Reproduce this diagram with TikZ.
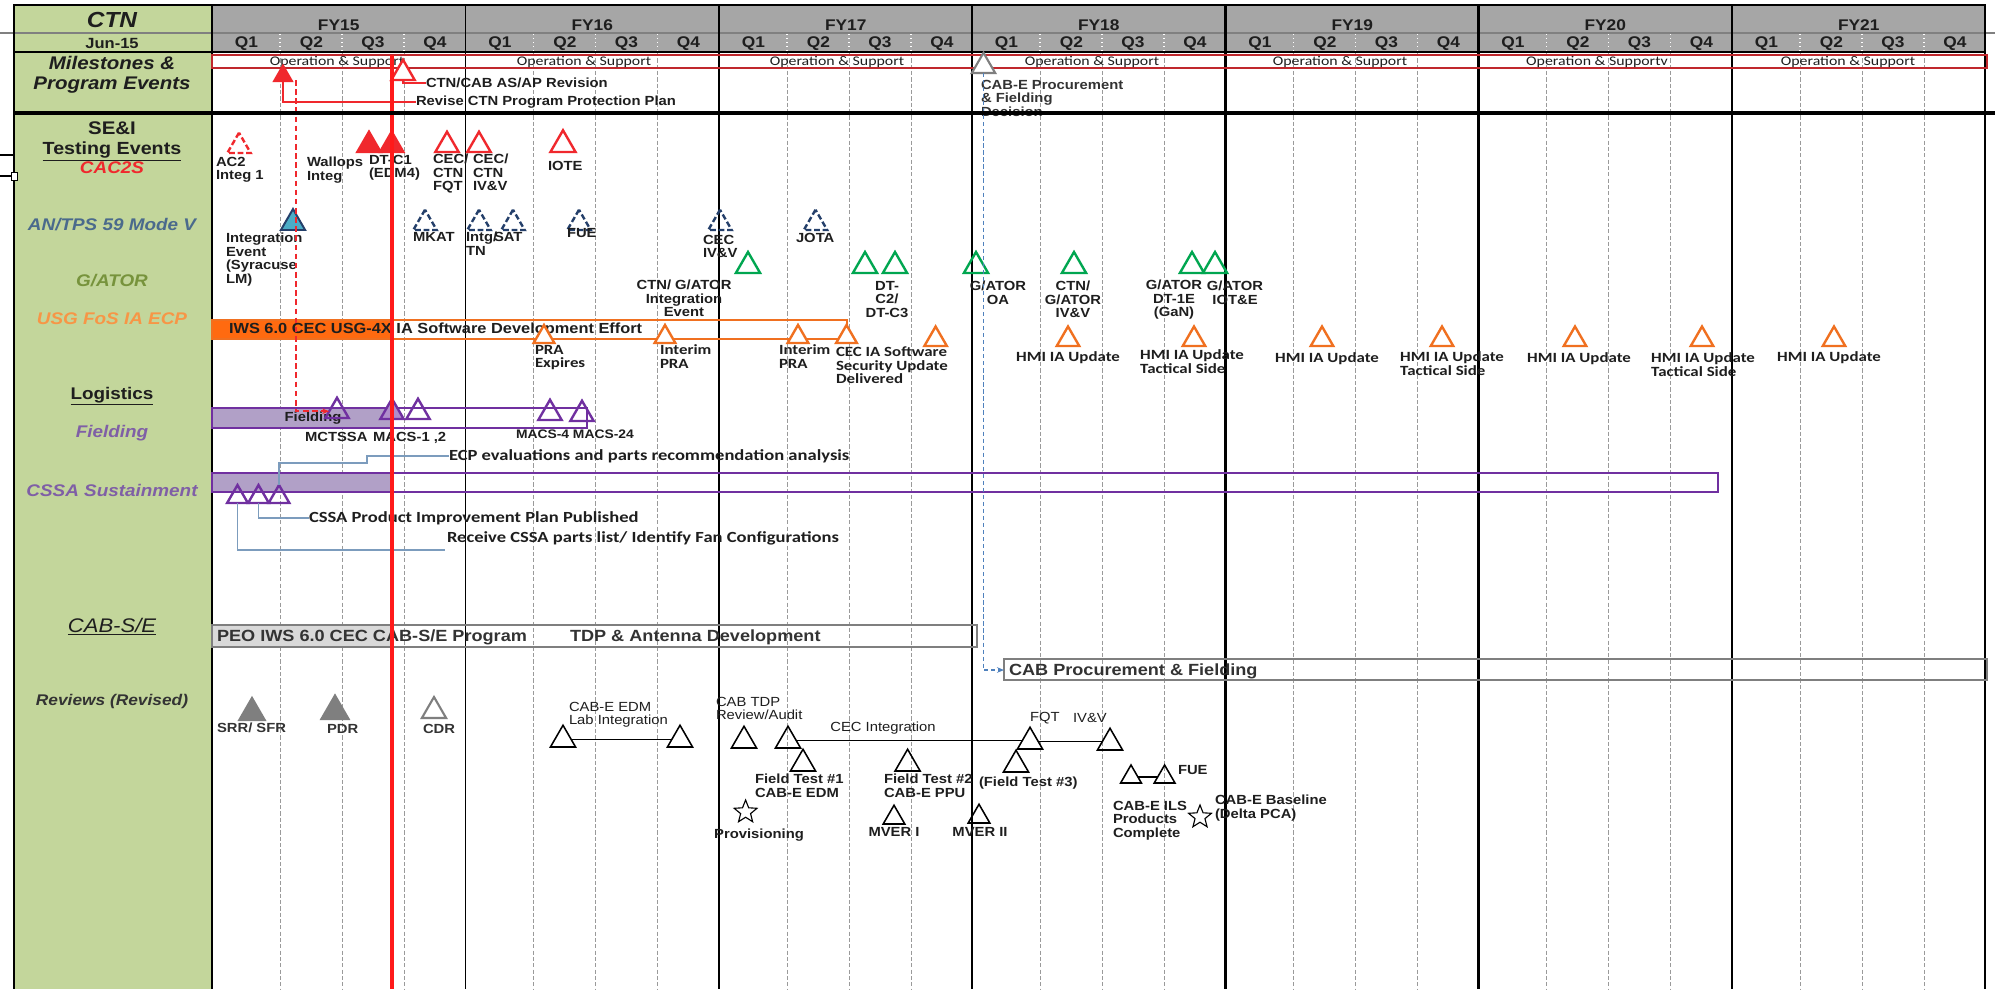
\documentclass[tikz,border=0pt]{standalone}
\usepackage{fontspec}
\setmainfont{Liberation Sans}[FakeStretch=1.12]
\newfontfamily\calfont{Carlito}[FakeStretch=1.2]
\usetikzlibrary{shapes.geometric,arrows.meta}

\definecolor{labelgreen}{HTML}{C3D69B}
\definecolor{hdrgray}{HTML}{A6A6A6}
\definecolor{opsred}{HTML}{C0282D}
\definecolor{nowred}{HTML}{FF1A1A}
\definecolor{cacred}{HTML}{F0282D}
\definecolor{navyline}{HTML}{243F6A}
\definecolor{tealfill}{HTML}{4BACC6}
\definecolor{tpsblue}{HTML}{4A6A8C}
\definecolor{gatorlbl}{HTML}{77933C}
\definecolor{gatorgrn}{HTML}{00A650}
\definecolor{usgorange}{HTML}{F79646}
\definecolor{orangeln}{HTML}{F07020}
\definecolor{orangebar}{HTML}{FF6A10}
\definecolor{purp}{HTML}{7030A0}
\definecolor{lavfill}{HTML}{B1A0C7}
\definecolor{purplbl}{HTML}{7F5FA6}
\definecolor{connblue}{HTML}{7C9CBD}
\definecolor{dashblue}{HTML}{4F81BD}
\definecolor{boxgray}{HTML}{7F7F7F}
\definecolor{pegray}{HTML}{D9D9D9}
\definecolor{txt}{HTML}{1E1E1E}
\definecolor{txtgray}{HTML}{333333}
\definecolor{gridgray}{HTML}{9A9A9A}

\begin{document}
\begin{tikzpicture}[x=0.025cm,y=-0.025cm,
  every node/.style={inner sep=0pt,outer sep=0pt},
  tri/.style={regular polygon,regular polygon sides=3,minimum size={#1*0.025cm},anchor=south,line width=1.7pt},
  tri/.default=27,
  dtri/.style={tri,dash pattern=on 4pt off 2pt},
  starb/.style={star,star points=5,star point ratio=2.3,draw=black,minimum size={24*0.025cm},line width=0.8pt},
  hdr/.style={font=\bfseries\fontsize{11}{11}\selectfont,text=txt},
  opst/.style={font=\calfont\fontsize{9.4}{9.4}\selectfont,text=txt},
  lbl/.style={font=\bfseries\fontsize{9.4}{9.6}\selectfont,text=txt,align=left},
  rlbl/.style={font=\fontsize{9.4}{9.6}\selectfont,text=txt,align=left},
  clbl/.style={font=\calfont\bfseries\fontsize{10}{9.6}\selectfont,text=txt,align=left},
  cbig/.style={font=\calfont\bfseries\fontsize{11}{11}\selectfont,text=txt},
  big/.style={font=\bfseries\fontsize{11.5}{11.5}\selectfont,text=txtgray},
  side/.style={anchor=base,font=\bfseries\itshape\fontsize{12}{12}\selectfont},
  gridline/.style={gridgray,dash pattern=on 3pt off 1.5pt,line width=0.5pt},
  conn/.style={connblue,line width=1pt},
]
\useasboundingbox (0,0) rectangle (1995,989);

% backgrounds
\fill[white] (0,0) rectangle (1995,989);
\fill[labelgreen] (14,5) rectangle (212,989);
\fill[hdrgray] (212,5) rectangle (1985,52);

% quarter grid
\foreach \ys in {212,465.5,719,972,1225.5,1478.5,1732} {
  \foreach \q in {68,130,192} {
    \draw[gridline] ({\ys+\q},52) -- ({\ys+\q},989);
    \draw[white,dotted,line width=0.8pt] ({\ys+\q},34) -- ({\ys+\q},51);
  }
}

% frame
\draw[gray,line width=0.8pt] (0,33) -- (1995,33);
\draw[black,line width=1.1pt] (14,52) -- (1985,52);
\foreach \x in {465.5,719,972} \draw[black,line width=1.1pt] (\x,5) -- (\x,989);
\foreach \x in {1225.5,1478.5,1732,1985} \draw[black,line width=2pt] (\x,5) -- (\x,989);
\draw[black,line width=1.2pt] (212,5) -- (212,989);
\draw[black,line width=2pt] (14,5) -- (14,989);
\draw[black,line width=2pt] (13,5) -- (1986,5);
% loose handle at the left edge
\draw[black,line width=1.4pt] (0,155) -- (14,155) (0,176) -- (14,176);
\draw[black,fill=white,line width=0.7pt] (11,172) rectangle (17,180);

% header texts
\foreach \ys [count=\i from 15] in {212,465.5,719,972,1225.5,1478.5,1732} {
  \node (fy\i) [hdr] at ({\ys+126.7},25.5) {FY\i};
  \node (qa\i) [hdr] at ({\ys+34.5},44) {Q1};
  \node (qb\i) [hdr] at ({\ys+99.5},44) {Q2};
  \node (qc\i) [hdr] at ({\ys+161},44) {Q3};
  \node (qd\i) [hdr] at ({\ys+223},44) {Q4};
}

% row titles
\node (lcCTN) [anchor=base,text=txt,font=\bfseries\itshape\fontsize{15.5}{15.5}\selectfont] at (112,27.5) {CTN};
\node (lcJun) [anchor=base,text=txt,font=\bfseries\fontsize{10.5}{10.5}\selectfont] at (112,48.3) {Jun-15};
\node (lcMil) [anchor=north,align=center,text=txt,font=\bfseries\itshape\fontsize{13}{14.2}\selectfont] at (112,56.5) {Milestones \&\\Program Events};
\node (lcSEI) [anchor=base,text=txt,font=\bfseries\fontsize{13}{13}\selectfont] at (112,134.5) {SE\&I};
\node (lcTest) [anchor=base,text=txt,font=\bfseries\fontsize{12.5}{12.5}\selectfont] at (112,154.3) {\underline{Testing Events}};
\node (lcCAC) [side,text=cacred] at (112,173) {CAC2S};
\node (lcTPS) [side,text=tpsblue] at (112,230) {AN/TPS 59 Mode V};
\node (lcGAT) [side,text=gatorlbl] at (112,286) {G/ATOR};
\node (lcUSG) [side,text=usgorange] at (112,324) {USG FoS IA ECP};
\node (lcLog) [anchor=base,text=txt,font=\bfseries\fontsize{12}{12}\selectfont] at (112,399) {\underline{Logistics}};
\node (lcFld) [side,text=purplbl] at (112,437) {Fielding};
\node (lcCSSA) [side,text=purplbl] at (112,496) {CSSA Sustainment};
\node (lcCAB) [anchor=base,text=txt,font=\itshape\fontsize{14}{14}\selectfont] at (112,632) {\underline{CAB-S/E}};
\node (lcRev) [anchor=base,text=txtgray,font=\bfseries\itshape\fontsize{11}{11}\selectfont] at (112,705.5) {Reviews (Revised)};

% operation & support band
\draw[opsred,line width=1.5pt] (212,55) rectangle (1987,68);
\foreach \xc/\t [count=\i] in {337/Operation \& Support,584/Operation \& Support,837/Operation \& Support,1092/Operation \& Support,1340/Operation \& Support,1597/Operation \& Supportv,1848/Operation \& Support}
  \node (ops\i) [opst] at (\xc,61.5) {\t};

% bars
\fill[orangebar] (212,320) rectangle (392,339);
\draw[orangeln,line width=1.8pt] (212,320) rectangle (847,339);
\fill[lavfill] (212,408) rectangle (392,428);
\draw[purp,line width=1.8pt] (212,408) rectangle (587,428);
\fill[lavfill] (212,473) rectangle (394,492);
\draw[purp,line width=1.8pt] (212,473) rectangle (1718,492);
\fill[pegray] (212,625) rectangle (394,647);
\draw[boxgray,line width=1.8pt] (212,625) rectangle (977,647);
\draw[boxgray,line width=1.8pt] (1004,659) rectangle (1987,680);
\coordinate (cabProcW) at (1004,670);

\node (tIWS) [lbl,anchor=west,font=\bfseries\fontsize{10.4}{10.4}\selectfont] at (229,330) {IWS 6.0 CEC USG-4X IA Software Development Effort};
\node (tFieldBar) [lbl] at (313,418) {Fielding};
\node (tPEO) [big,anchor=west] at (217,637) {PEO IWS 6.0 CEC CAB-S/E Program};
\node (tTDP) [big,anchor=west] at (570,637) {TDP \& Antenna Development};
\node (tCABP) [big,anchor=west] at (1009,671) {CAB Procurement \& Fielding};

% milestone markers
\node (mA) [tri=20,draw=cacred,fill=cacred] at (283,81) {};
\node (mB) [tri=27,draw=cacred,fill=white] at (403,80) {};
\node (mC) [tri=27,draw=boxgray,fill=white,line width=1.5pt] at (983.5,73) {};
\node (tCTNCAB) [lbl,anchor=west] at (426,83) {CTN/CAB AS/AP Revision};
\node (tRevise) [lbl,anchor=west] at (416,102) {Revise CTN Program Protection Plan};
\node (tCABE) [lbl,text=txtgray,anchor=north west] at (981,80) {CAB-E Procurement\\\& Fielding\\Decision};

% CAC2S testing events
\node (c1) [dtri,draw=cacred] at (239,153) {};
\node (c2) [tri,draw=cacred,fill=cacred] at (369,152) {};
\node (c3) [tri,draw=cacred,fill=cacred] at (391.7,152) {};
\node (c4) [tri,draw=cacred] at (447,152) {};
\node (c5) [tri,draw=cacred] at (479,152) {};
\node (c6) [tri=29,draw=cacred] at (563,152) {};
\node (tAC2) [lbl,anchor=north west] at (216,157) {AC2\\Integ 1};
\node (tWal) [lbl,anchor=north west] at (307,157) {Wallops\\Integ};
\node (tDT) [lbl,anchor=north west] at (369,155) {DT-C1\\(EDM4)};
\node (tCECa) [lbl,anchor=north west] at (433,154) {CEC/\\CTN\\FQT};
\node (tCECb) [lbl,anchor=north west] at (473,154) {CEC/\\CTN\\IV\&V};
\node (tIOTE) [lbl,anchor=north west] at (548,161) {IOTE};

% AN/TPS 59 events
\node (b1) [tri=28,draw=navyline,fill=tealfill,line width=1.4pt] at (293,230) {};
\foreach \x [count=\i from 2] in {425,479,513,579,720,815.5}
  \node (b\i) [dtri,draw=navyline] at (\x,230) {};
\node (tInt) [lbl,anchor=north west] at (226,233) {Integration\\Event\\(Syracuse\\LM)};
\node (tMKAT) [lbl,anchor=north west] at (413,232) {MKAT};
\node (tIntg) [lbl,anchor=north west] at (466,232) {Intg/\\TN};
\node (tSAT) [lbl,anchor=north west] at (494,232) {SAT};
\node (tFUEa) [lbl,anchor=north west] at (567,228) {FUE};
\node (tCECc) [lbl,anchor=north west] at (703,235) {CEC\\IV\&V};
\node (tJOTA) [lbl,anchor=north west] at (796,233) {JOTA};

% G/ATOR events
\foreach \x [count=\i] in {748,865,895,976,1074,1192,1215}
  \node (g\i) [tri=28,draw=gatorgrn] at (\x,273) {};
\node (tCG) [lbl,align=center,anchor=north] at (684,280) {CTN/ G/ATOR\\Integration\\Event};
\node (tDTc) [lbl,align=center,anchor=north] at (887,281) {DT-\\C2/\\DT-C3};
\node (tOA) [lbl,align=center,anchor=north] at (998,281) {G/ATOR\\OA};
\node (tCIV) [lbl,align=center,anchor=north] at (1073,281) {CTN/\\G/ATOR\\IV\&V};
\node (tGaN) [lbl,align=center,anchor=north] at (1174,280) {G/ATOR\\DT-1E\\(GaN)};
\node (tIOT) [lbl,align=center,anchor=north] at (1235,281) {G/ATOR\\IOT\&E};

% USG FoS IA ECP events
\node (o1) [tri=24,draw=orangeln,fill=white] at (544,343) {};
\node (o2) [tri=24,draw=orangeln,fill=white] at (665,343) {};
\node (o3) [tri=24,draw=orangeln,fill=white] at (798,343) {};
\node (o4) [tri=24,draw=orangeln,fill=white] at (846.5,343) {};
\foreach \x [count=\i from 5] in {935.6,1068,1194,1322,1442,1575,1702,1834}
  \node (o\i) [tri=26,draw=orangeln] at (\x,346) {};
\node (tPRA) [clbl,anchor=north west] at (535,345) {PRA\\Expires};
\node (tIPa) [clbl,anchor=north west] at (660,345) {Interim\\PRA};
\node (tIPb) [clbl,anchor=north west] at (779,345) {Interim\\PRA};
\node (tCECd) [clbl,anchor=north west] at (836,347) {CEC IA Software\\Security Update\\Delivered};
\node (tHMIa) [clbl,anchor=north] at (1068,352) {HMI IA Update};
\node (tHMIb) [clbl,anchor=north] at (1192,350) {HMI IA Update\\Tactical Side};
\node (tHMIc) [clbl,anchor=north] at (1327,353) {HMI IA Update};
\node (tHMId) [clbl,anchor=north] at (1452,352) {HMI IA Update\\Tactical Side};
\node (tHMIe) [clbl,anchor=north] at (1579,353) {HMI IA Update};
\node (tHMIf) [clbl,anchor=north] at (1703,353) {HMI IA Update\\Tactical Side};
\node (tHMIg) [clbl,anchor=north] at (1829,352) {HMI IA Update};

% fielding events
\node (p1) [tri,draw=purp] at (337,418) {};
\node (p2) [tri,draw=purp,fill=purp!55] at (392,419) {};
\node (p3) [tri,draw=purp] at (418,419) {};
\node (p4) [tri,draw=purp] at (550,420) {};
\node (p5) [tri,draw=purp] at (582,421) {};
\node (tMCT) [lbl,anchor=north west] at (305,432) {MCTSSA};
\node (tMACa) [lbl,anchor=north west] at (373,432) {MACS-1 ,2};
\node (tMACb) [lbl,anchor=north west,font=\bfseries\fontsize{8.8}{8.8}\selectfont] at (516,430) {MACS-4 MACS-24};

% CSSA sustainment events
\node (k1) [tri=24,draw=purp] at (237.5,503) {};
\node (k2) [tri=24,draw=purp] at (258.5,503) {};
\node (k3) [tri=24,draw=purp] at (279,503) {};
\node (tECP) [cbig,anchor=west] at (449,456) {ECP evaluations and parts recommendation analysis};
\node (tPIP) [cbig,anchor=west] at (309,518) {CSSA Product Improvement Plan Published};
\node (tRecv) [cbig,anchor=west] at (447,538) {Receive CSSA parts list/ Identify Fan Configurations};
\coordinate (ecpBend) at (367,463);
\coordinate (recvEnd) at (445,550);

% reviews
\node (r1) [tri=29,draw=boxgray,fill=boxgray] at (252,720) {};
\node (r2) [tri=31,draw=boxgray,fill=boxgray] at (335,719) {};
\node (r3) [tri=28,draw=boxgray,line width=1.5pt] at (434,718) {};
\node (tSRR) [lbl,text=txtgray,anchor=north west] at (217,723) {SRR/ SFR};
\node (tPDR) [lbl,text=txtgray,anchor=north west] at (327,724) {PDR};
\node (tCDR) [lbl,text=txtgray,anchor=north west] at (423,724) {CDR};

\tikzset{btri/.style={tri=#1,draw=black,line width=1.1pt},btri/.default=29}
\node (r4) [btri] at (563,747) {};
\node (r5) [btri] at (680,747) {};
\node (r6) [btri] at (744,748) {};
\node (r7) [btri] at (788,748) {};
\node (r8) [btri] at (1030,749) {};
\node (r9) [btri] at (1110,750) {};
\node (r10) [btri] at (803,771) {};
\node (r11) [btri] at (907.6,771) {};
\node (r12) [btri] at (1016,772) {};
\node (r13) [btri=24] at (1131,783) {};
\node (r14) [btri=24] at (1164.6,783) {};
\node (r15) [btri=25] at (894,824) {};
\node (r16) [btri=25] at (979,823) {};
\node (s1) [starb] at (745.6,812) {};
\node (s2) [starb] at (1200,817) {};

\node (tLab) [rlbl,anchor=north west] at (569,702) {CAB-E EDM\\Lab Integration};
\node (tTDPR) [rlbl,anchor=north west] at (716,697) {CAB TDP\\Review/Audit};
\node (tCECi) [rlbl] at (883,728) {CEC Integration};
\node (tFQT) [rlbl,anchor=west] at (1030,718) {FQT};
\node (tIVV) [rlbl,anchor=west] at (1073,718) {IV\&V};
\node (tFT1) [lbl,anchor=north west] at (755,774) {Field Test \#1\\CAB-E EDM};
\node (tFT2) [lbl,anchor=north west] at (884,774) {Field Test \#2\\CAB-E PPU};
\node (tFT3) [lbl,anchor=north west] at (979,777) {(Field Test \#3)};
\node (tFUEb) [lbl,anchor=west] at (1178,770) {FUE};
\node (tProv) [lbl,anchor=north] at (759,829) {Provisioning};
\node (tMV1) [lbl,anchor=north] at (894,827) {MVER I};
\node (tMV2) [lbl,anchor=north] at (980,827) {MVER II};
\node (tILS) [lbl,anchor=north west] at (1113,801) {CAB-E ILS\\Products\\Complete};
\node (tBase) [lbl,anchor=north west] at (1215,795) {CAB-E Baseline\\(Delta PCA)};

% connectors
\coordinate (rdTop) at (296,80);
\draw[cacred,line width=1pt] (mA.south) |- (tRevise.west);
\draw[cacred,line width=1pt] (mB.south) |- (tCTNCAB.west);
\draw[cacred,line width=1.1pt,dash pattern=on 4pt off 2.5pt,-{Stealth[length=5pt,width=4pt]}] (rdTop) |- (p1.west);
\draw[dashblue,line width=0.8pt,dash pattern=on 3pt off 2pt,-{Stealth[length=5pt,width=4pt]}] (mC.south) |- (cabProcW);
\draw[conn] (k3.north) |- (ecpBend) |- (tECP.west);
\draw[conn] (k2.south) |- (tPIP.west);
\draw[conn] (k1.south) |- (recvEnd);
\draw[black,line width=1pt] (r4.east) -- (r4.east -| r5.west);
\draw[black,line width=1pt] (r7.east) -- (r7.east -| r8.west);
\draw[black,line width=1pt] (r8.east) -- (r8.east -| r9.west);
\draw[black,line width=1pt] (r13.east) -- (r14.west);

% status date line
\draw[nowred,line width=2.2pt] (392,55) -- (392,989);

% section divider
\draw[black,line width=2.2pt] (13,113) -- (1995,113);
\end{tikzpicture}
\end{document}
